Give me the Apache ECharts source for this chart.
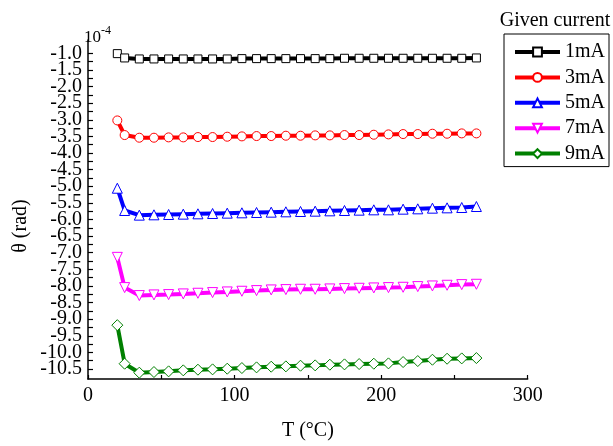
<!DOCTYPE html>
<html>
<head>
<meta charset="utf-8">
<script src="https://cdn.jsdelivr.net/npm/echarts@6/dist/echarts.min.js"></script>
<style>
  html, body { margin: 0; padding: 0; background: #fff; }
  #chart { width: 613px; height: 446px; }
</style>
</head>
<body>
<div id="chart"></div>
<script>
// Temperature (°C) at which the angle was recorded
var temps = [20, 25, 35, 45, 55, 65, 75, 85, 95, 105, 115, 125, 135, 145, 155, 165, 175, 185, 195, 205, 215, 225, 235, 245, 255, 265];

// Angle theta (x 10^-4 rad) for each drive current
var theta1mA = [-1.01, -1.14, -1.17, -1.17, -1.17, -1.17, -1.17, -1.17, -1.17, -1.16, -1.16, -1.16, -1.16, -1.16, -1.16, -1.16, -1.15, -1.15, -1.15, -1.15, -1.15, -1.15, -1.15, -1.15, -1.15, -1.14];
var theta3mA = [-3.02, -3.46, -3.54, -3.54, -3.53, -3.53, -3.52, -3.52, -3.51, -3.50, -3.49, -3.49, -3.48, -3.48, -3.47, -3.47, -3.46, -3.46, -3.45, -3.44, -3.43, -3.43, -3.42, -3.42, -3.41, -3.41];
var theta5mA = [-5.06, -5.73, -5.87, -5.86, -5.85, -5.84, -5.83, -5.82, -5.81, -5.80, -5.79, -5.78, -5.77, -5.76, -5.75, -5.74, -5.73, -5.72, -5.71, -5.71, -5.69, -5.68, -5.66, -5.65, -5.64, -5.61];
var theta7mA = [-7.14, -8.05, -8.29, -8.27, -8.26, -8.24, -8.22, -8.20, -8.18, -8.16, -8.14, -8.12, -8.11, -8.10, -8.10, -8.09, -8.08, -8.07, -8.06, -8.05, -8.04, -8.02, -8.00, -7.98, -7.96, -7.95];
var theta9mA = [-9.18, -10.34, -10.61, -10.59, -10.57, -10.54, -10.52, -10.51, -10.49, -10.47, -10.45, -10.43, -10.42, -10.40, -10.39, -10.37, -10.36, -10.35, -10.34, -10.33, -10.29, -10.26, -10.22, -10.19, -10.18, -10.17];

var seriesNames = ['1mA', '3mA', '5mA', '7mA', '9mA'];

// Axis tick labels
var xTickValues = [0, 100, 200, 300];
var yTickValues = [-10.5, -10.0, -9.5, -9.0, -8.5, -8.0, -7.5, -7.0, -6.5, -6.0, -5.5, -5.0, -4.5, -4.0, -3.5, -3.0, -2.5, -2.0, -1.5, -1.0];

var FONT = '"Liberation Serif", "Times New Roman", serif';
var Y_MIN = -10.8, Y_MAX = -0.6;

// minor ticks sit halfway between labelled ticks
var yTickAll = [];
yTickValues.forEach(function (v, i) {
  yTickAll.push(v);
  if (i < yTickValues.length - 1) yTickAll.push(v + 0.25);
});

// labels are packed tightly, so they are split over two stacked axes
// (alternating values) to keep the overlap filter from dropping any
var yLabelsA = yTickValues.filter(function (v, i) { return i % 2 === 0; });
var yLabelsB = yTickValues.filter(function (v, i) { return i % 2 === 1; });

function pairs(ys) {
  return temps.map(function (t, i) { return [t, ys[i]]; });
}

var styles = [
  { data: theta1mA, color: '#000000', symbol: 'rect', size: 8, rotate: 0 },
  { data: theta3mA, color: '#ff0000', symbol: 'circle', size: 9, rotate: 0 },
  { data: theta5mA, color: '#0000ff', symbol: 'triangle', size: 10, rotate: 0 },
  { data: theta7mA, color: '#ff00ff', symbol: 'triangle', size: 10, rotate: 180 },
  { data: theta9mA, color: '#008000', symbol: 'diamond', size: 11, rotate: 0 }
];

var series = styles.map(function (s, i) {
  return {
    name: seriesNames[i],
    type: 'line',
    yAxisIndex: 0,
    data: pairs(s.data),
    symbol: s.symbol,
    symbolSize: s.size,
    symbolRotate: s.rotate,
    showAllSymbol: true,
    lineStyle: { color: s.color, width: 4 },
    itemStyle: { color: '#ffffff', borderColor: s.color, borderWidth: 1 },
    emphasis: { disabled: true },
    animation: false
  };
});

var labelStyle = {
  fontFamily: FONT, fontSize: 20, color: '#000', margin: 6,
  interval: 0,
  hideOverlap: false,
  formatter: function (v) { return v.toFixed(1); }
};

var chart = echarts.init(document.getElementById('chart'), null, { renderer: 'canvas' });

chart.setOption({
  backgroundColor: '#ffffff',
  animation: false,
  grid: { left: 88, right: 85.3, top: 40, bottom: 61.7 },
  xAxis: {
    type: 'value',
    min: xTickValues[0],
    max: xTickValues[xTickValues.length - 1],
    interval: 100,
    name: 'T (°C)',
    nameLocation: 'middle',
    nameGap: 42,
    nameTextStyle: { fontFamily: FONT, fontSize: 20, color: '#000' },
    axisLine: { show: true, lineStyle: { color: '#000', width: 1.5 } },
    axisTick: { show: true, inside: true, length: 4, lineStyle: { color: '#000', width: 1.2 } },
    minorTick: { show: true, splitNumber: 2, length: 4, lineStyle: { color: '#000', width: 1.2 } },
    axisLabel: { fontFamily: FONT, fontSize: 20, color: '#000', margin: 7 },
    splitLine: { show: false }
  },
  yAxis: [
    {
      type: 'value',
      position: 'left',
      min: Y_MIN,
      max: Y_MAX,
      axisLine: { show: true, onZero: false, lineStyle: { color: '#000', width: 1.5 } },
      axisTick: { show: true, inside: true, length: 5, customValues: yTickAll, lineStyle: { color: '#000', width: 1.2 } },
      axisLabel: Object.assign({ customValues: yLabelsA }, labelStyle),
      splitLine: { show: false }
    },
    {
      type: 'value',
      position: 'left',
      offset: 0,
      min: Y_MIN,
      max: Y_MAX,
      axisLine: { show: false },
      axisTick: { show: false },
      axisLabel: Object.assign({ customValues: yLabelsB }, labelStyle),
      splitLine: { show: false }
    }
  ],
  legend: {
    data: seriesNames,
    orient: 'vertical',
    left: 504,
    top: 34,
    itemWidth: 45,
    itemHeight: 11,
    itemGap: 5.4,
    padding: [8, 4, 3, 9],
    borderColor: '#000',
    borderWidth: 1,
    lineStyle: { width: 4 },
    textStyle: { fontFamily: FONT, fontSize: 20, color: '#000', lineHeight: 20 },
    selectedMode: false
  },
  graphic: [
    {
      type: 'text', x: 555, y: 21,
      style: { text: 'Given current', font: '20px ' + FONT, fill: '#000', align: 'center', verticalAlign: 'middle' }
    },
    {
      type: 'text', x: 21, y: 226, rotation: Math.PI / 2,
      style: { text: 'θ (rad)', font: '20px ' + FONT, fill: '#000', align: 'center', verticalAlign: 'middle' }
    },
    {
      type: 'text', x: 84, y: 38,
      style: { text: '10', font: '17px ' + FONT, fill: '#000', align: 'left', verticalAlign: 'middle' }
    },
    {
      type: 'text', x: 101, y: 31,
      style: { text: '-4', font: '12px ' + FONT, fill: '#000', align: 'left', verticalAlign: 'middle' }
    }
  ],
  series: series
});
</script>
</body>
</html>
